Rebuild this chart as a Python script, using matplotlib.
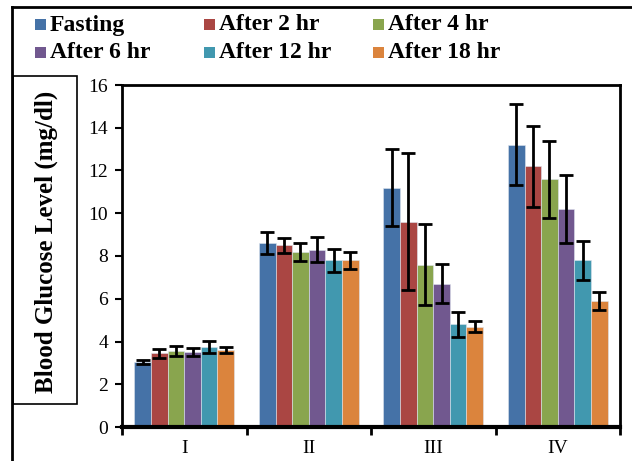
import matplotlib
matplotlib.use("Agg")
import matplotlib.pyplot as plt
from matplotlib.patches import Rectangle
from matplotlib.lines import Line2D
import numpy as np

# data
groups = ["I", "II", "III", "IV"]
series = ["Fasting", "After 2 hr", "After 4 hr", "After 6 hr", "After 12 hr", "After 18 hr"]
colors = ["#4572A7", "#AA4643", "#89A54E", "#71588F", "#4198AF", "#DB843D"]

fasting = [3.05, 8.6, 11.2, 13.2]
after_2 = [3.45, 8.5, 9.6, 12.2]
after_4 = [3.55, 8.2, 7.6, 11.6]
after_6 = [3.5, 8.3, 6.7, 10.2]
after_12 = [3.75, 7.8, 4.8, 7.8]
after_18 = [3.62, 7.8, 4.7, 5.9]

err_fasting = [0.1, 0.5, 1.8, 1.9]
err_2 = [0.22, 0.35, 3.2, 1.9]
err_4 = [0.23, 0.43, 1.9, 1.8]
err_6 = [0.2, 0.6, 0.92, 1.6]
err_12 = [0.28, 0.55, 0.6, 0.9]
err_18 = [0.14, 0.4, 0.25, 0.41]

values = [fasting, after_2, after_4, after_6, after_12, after_18]
errors = [err_fasting, err_2, err_4, err_6, err_12, err_18]

plt.rcParams['font.family'] = ['Liberation Serif', 'DejaVu Serif']

W, H = 632, 461
fig = plt.figure(figsize=(W / 100, H / 100), dpi=100)
ax = fig.add_axes([122 / W, 1 - 427 / H, (620 - 122) / W, (427 - 85) / H])

x = np.arange(len(groups))
n = len(series)
bw = 0.8 / n
for i, (vals, errs) in enumerate(zip(values, errors)):
    pos = x - 0.4 + bw * (i + 0.5)
    ax.bar(pos, vals, width=bw, color=colors[i], edgecolor="#dde4ee", linewidth=0.4,
           label=series[i], zorder=2)
    ax.errorbar(pos, vals, yerr=errs, fmt="none", ecolor="black", elinewidth=2,
                capsize=5, capthick=2, zorder=3)

ax.set_xlim(-0.5, len(groups) - 0.5)
ax.set_ylim(0, 16)
ax.set_yticks(np.arange(0, 17, 2))
ax.tick_params(axis="y", direction="out", length=5, width=1.5, labelsize=14, pad=5)
ax.set_xticks(x)
ax.set_xticklabels(groups)
ax.set_xticks(np.arange(-0.5, len(groups)), minor=True)
ax.tick_params(axis="x", which="major", length=0, labelsize=14, pad=9)
ax.tick_params(axis="x", which="minor", direction="out", length=6, width=2)
for s in ["left", "top", "right"]:
    ax.spines[s].set_linewidth(2)
ax.spines["bottom"].set_linewidth(3)

# outer frame lines and y-label box
fig.add_artist(Line2D([12 / W, 1], [1 - 7 / H, 1 - 7 / H], color="black", lw=2))
fig.add_artist(Line2D([12 / W, 12 / W], [0, 1 - 7 / H], color="black", lw=2))
fig.add_artist(Rectangle((13 / W, 1 - 404 / H), 64 / W, 328 / H,
                         fill=False, edgecolor="black", lw=1.2))
fig.text(46 / W, 1 - 242 / H, "Blood Glucose Level (mg/dl)", rotation=90,
         ha="center", va="center", fontsize=18, fontweight="bold")

# legend, laid out row by row like the reference
col_x = [35, 204, 373]
row_y = [24, 52]
for i, name in enumerate(series):
    mx = col_x[i % 3]
    my = row_y[i // 3]
    fig.add_artist(Rectangle((mx / W, 1 - (my + 6) / H), 11 / W, 11 / H,
                             facecolor=colors[i], edgecolor="none"))
    fig.text((mx + 15) / W, 1 - (my + 1) / H, name, ha="left", va="center",
             fontsize=17, fontweight="bold")

fig.savefig("out.png", dpi=100)
